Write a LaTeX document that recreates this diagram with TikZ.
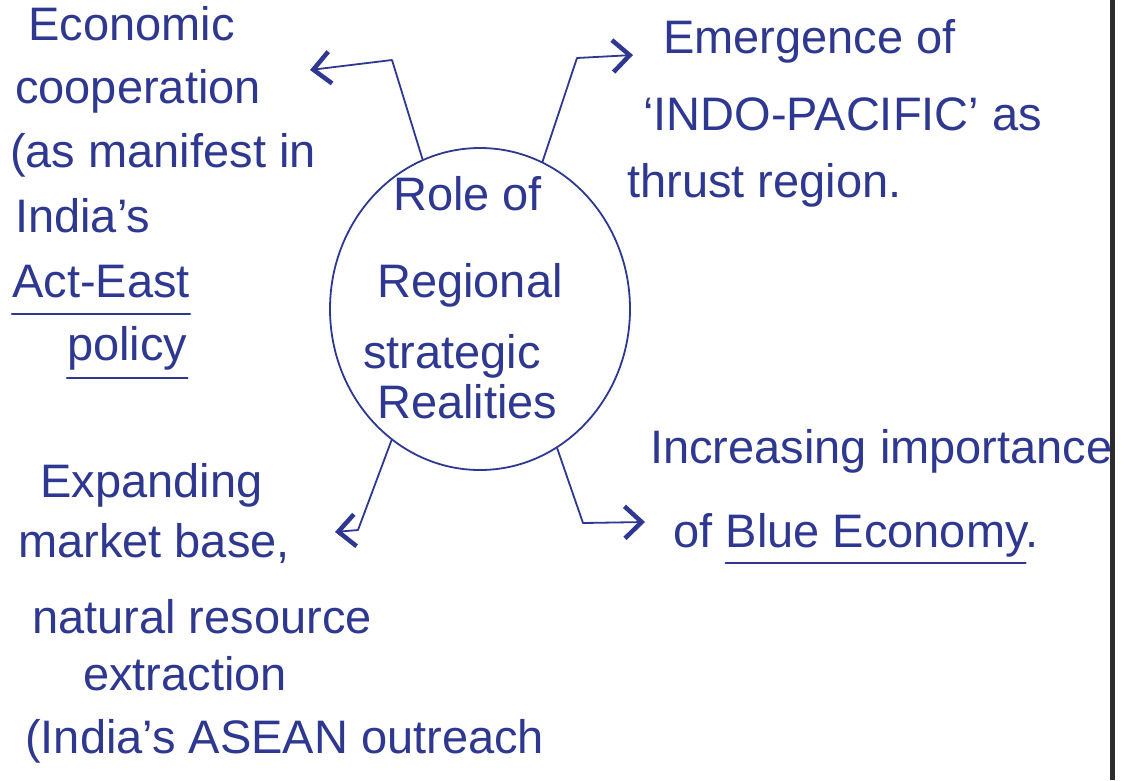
\documentclass[tikz,border=0pt]{standalone}
\usepackage{fontspec}
\setmainfont{Liberation Sans}
\usetikzlibrary{arrows.meta,shapes.geometric}
\definecolor{ink}{RGB}{46,56,145}
\definecolor{margin}{RGB}{45,45,45}

\begin{document}
\begin{tikzpicture}[x=1pt,y=-1pt,
  hand/.style={anchor=base west, inner sep=0pt, text=ink,
               font=\fontsize{47}{52}\selectfont},
  pen/.style={draw=ink, line width=1.8pt, line cap=round, line join=round},
  uline/.style={draw=ink, line width=2.2pt, line cap=round},
  arr/.style={pen, -{Straight Barb[length=17pt,width=32pt,line width=4.5pt]}}]

\useasboundingbox (0,0) rectangle (1148,780);
\fill[white] (0,0) rectangle (1148,780);

% margin rule on the right
\draw[margin, line width=5pt] (1112,0) -- (1112,780);

% central idea
\node[pen, ellipse, minimum width=300pt, minimum height=322pt, inner sep=0pt] (hub) at (480,309) {};
\node[hand] (r1) at (393,210) {Role of};
\node[hand] (r2) at (377,297) {Regional};
\node[hand] (r3) at (363,368) {strategic};
\node[hand] (r4) at (377,418) {Realities};

% top left
\node[hand] (ec1) at (28,40)  {Economic};
\node[hand] (ec2) at (15,103) {cooperation};
\node[hand] (ec3) at (10,167) {(as manifest in};
\node[hand] (ec4) at (15,232) {India's};
\node[hand] (ec5) at (12,297) {Act-East};
\node[hand] (ec6) at (67,360) {policy};
\draw[uline] ([yshift=-17pt]ec5.base west) -- ([yshift=-17pt]ec5.base east);
\draw[uline] ([yshift=-18pt]ec6.base west) -- ([yshift=-18pt]ec6.base east);

% top right
\node[hand] (em1) at (663,53)  {Emergence of};
\node[hand] (em2) at (643,130) {`INDO-PACIFIC' as};
\node[hand] (em3) at (627,197) {thrust region.};

% bottom left
\node[hand] (bl1) at (40,497) {Expanding};
\node[hand] (bl2) at (18,557) {market base,};
\node[hand] (bl3) at (32,633) {natural resource};
\node[hand] (bl4) at (83,690) {extraction};
\node[hand] (bl5) at (25,753) {(India's ASEAN outreach};

% bottom right
\node[hand] (br1) at (650,463) {Increasing importance};
\node[hand] (br2) at (673,547) {of};
\node[hand] (br3) at ([xshift=13pt]br2.base east) {Blue Economy.};
\draw[uline] ([yshift=-16pt]br3.base west) -- ([xshift=-13pt,yshift=-16pt]br3.base east);

% elbows and tips of the arrows
\coordinate (k1) at (392,60);  \coordinate (h1) at (310,70);
\coordinate (k2) at (577,58);  \coordinate (h2) at (633,55);
\coordinate (k3) at (358,530); \coordinate (h3) at (335,532);
\coordinate (k4) at (583,523); \coordinate (h4) at (645,522);

\draw[arr] (hub.111) -- (k1) -- (h1);
\draw[arr] (hub.67)  -- (k2) -- (h2);
\draw[arr] (hub.236) -- (k3) -- (h3);
\draw[arr] (hub.-61) -- (k4) -- (h4);

\end{tikzpicture}
\end{document}
